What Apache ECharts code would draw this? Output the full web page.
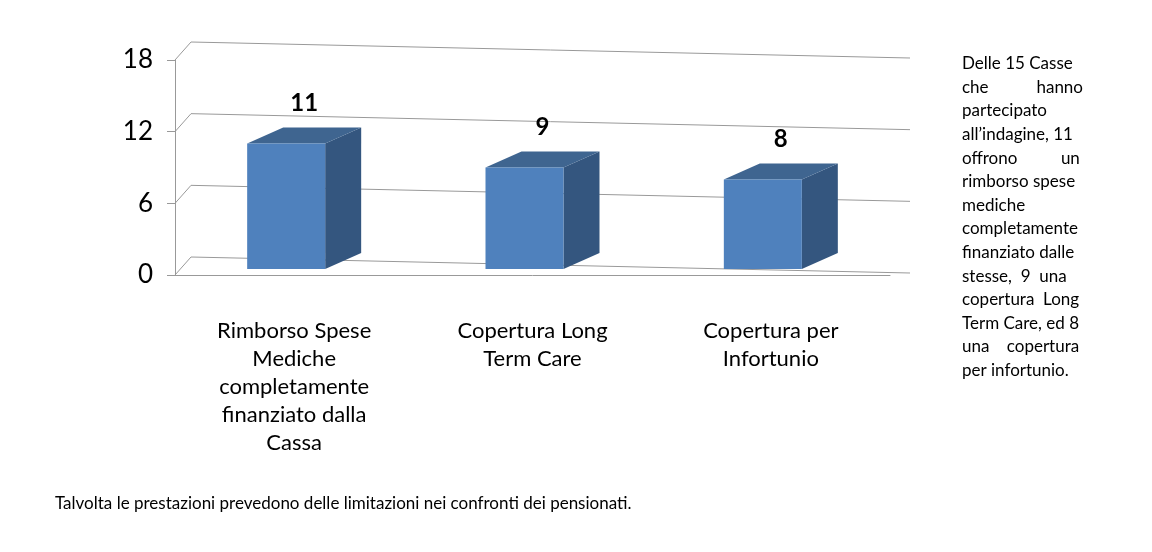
<!DOCTYPE html>
<html><head><meta charset="utf-8">
<script src="https://cdn.jsdelivr.net/npm/echarts@6/dist/echarts.min.js"></script>
<style>html,body{margin:0;background:#fff}#c{width:1152px;height:552px}</style>
</head><body><div id="c"></div>
<script>
const categories = ['Rimborso Spese\nMediche\ncompletamente\nfinanziato dalla\nCassa', 'Copertura Long\nTerm Care', 'Copertura per\nInfortunio'];
const values = [11, 9, 8];
const yTicks = [0, 6, 12, 18];
const sideLines = ['Delle 15 Casse', 'che           hanno', 'partecipato', 'all’indagine, 11', 'offrono          un', 'rimborso spese', 'mediche', 'completamente', 'finanziato dalle', 'stesse,  9  una', 'copertura  Long', 'Term Care, ed 8', 'una    copertura', 'per infortunio.'];
const caption = 'Talvolta le prestazioni prevedono delle limitazioni nei confronti dei pensionati.';

const chart = echarts.init(document.getElementById('c'));
const DX = 36, DY = -16;
chart.setOption({
  animation: false,
  textStyle: {fontFamily: 'Lato'},
  grid: {left: 175, right: 262, top: 60, bottom: 277},
  xAxis: {type: 'category', data: categories, axisTick: {show: false},
    axisLine: {lineStyle: {color: '#999'}},
    axisLabel: {fontSize: 22, color: '#000', lineHeight: 28, margin: 42, interval: 0}},
  yAxis: {type: 'value', min: 0, max: 18, interval: 6,
    axisLine: {show: true, lineStyle: {color: '#999'}}, axisTick: {show: true, length: 8, lineStyle: {color: '#999'}},
    axisLabel: {fontSize: 26, color: '#000', margin: 22},
    splitLine: {show: false}},
  series: [
    {type: 'custom', silent: true, data: yTicks, z: 1,
      renderItem: function (p, api) {
        const v = api.value(0);
        const a = api.coord([0, v]);
        const x0 = p.coordSys.x, x1 = p.coordSys.x + p.coordSys.width;
        return {type: 'group', children: [
          {type: 'line', shape: {x1: x0, y1: a[1], x2: x0 + DX - 20, y2: a[1] + DY - 2}, style: {stroke: '#999', lineWidth: 1}},
          {type: 'line', shape: {x1: x0 + DX - 20, y1: a[1] + DY - 2, x2: x1 + 20, y2: a[1] + DY + 14}, style: {stroke: '#999', lineWidth: 1}}
        ]};
      }, encode: {y: 0}},
    {type: 'custom', data: values.map((v, i) => [i, v]), z: 3,
      renderItem: function (p, api) {
        const t = api.coord([api.value(0), api.value(1)]);
        const b = api.coord([api.value(0), 0]);
        const w = 78, x = t[0] - w / 2 - 8;
        const top = t[1], bot = b[1] - 6;
        return {type: 'group', children: [
          {type: 'polygon', shape: {points: [[x + w, top], [x + w + DX, top + DY], [x + w + DX, bot + DY], [x + w, bot]]}, style: {fill: '#34567F'}},
          {type: 'polygon', shape: {points: [[x, top], [x + DX, top + DY], [x + w + DX, top + DY], [x + w, top]]}, style: {fill: '#3F6590'}},
          {type: 'rect', shape: {x: x, y: top, width: w, height: bot - top}, style: {fill: '#4F81BD'}},
          {type: 'text', style: {text: String(api.value(1)), x: x + w / 2 + DX / 2, y: top + DY - 12, align: 'center', verticalAlign: 'bottom', font: 'bold 24px Lato', fill: '#000'}}
        ]};
      }}
  ],
  graphic: [
    {type: 'text', left: 962, top: 52, style: {text: sideLines.join('\n'), font: '17px Lato', lineHeight: 23.6, fill: '#000'}},
    {type: 'text', left: 55, top: 495, style: {text: caption, font: '17px Lato', fill: '#000'}}
  ]
});
</script></body></html>
